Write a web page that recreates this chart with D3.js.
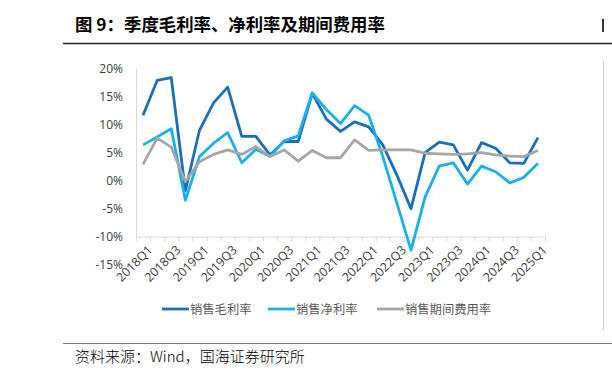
<!DOCTYPE html>
<html><head><meta charset="utf-8">
<script src="https://cdn.jsdelivr.net/npm/d3@7"></script>
<style>
html,body{margin:0;padding:0;background:#fff;}
svg{display:block;font-family:"Noto Sans CJK SC","Noto Sans",sans-serif;}
</style></head>
<body><svg id="c" width="612" height="379"></svg>
<script>
const categories = ["2018Q1","2018Q2","2018Q3","2018Q4","2019Q1","2019Q2","2019Q3","2019Q4","2020Q1","2020Q2","2020Q3","2020Q4","2021Q1","2021Q2","2021Q3","2021Q4","2022Q1","2022Q2","2022Q3","2022Q4","2023Q1","2023Q2","2023Q3","2023Q4","2024Q1","2024Q2","2024Q3","2024Q4","2025Q1"];
const grossMargin = [11.7,17.9,18.4,-1.8,9.0,13.9,16.7,7.9,7.9,4.6,7.0,7.0,15.6,11.0,8.8,10.5,9.6,6.4,1.0,-5.0,5.0,6.9,6.4,1.9,6.8,5.8,3.2,3.1,7.7];
const netMargin = [6.4,7.8,9.3,-3.5,4.3,6.7,8.6,3.2,5.6,4.3,7.1,8.0,15.7,12.7,10.2,13.4,11.7,4.3,-4.0,-12.4,-2.9,2.6,3.2,-0.6,2.6,1.6,-0.4,0.6,3.1];
const expenseRate = [2.9,7.6,6.0,-0.2,3.4,4.7,5.5,4.7,6.1,4.3,5.5,3.5,5.4,4.1,4.1,7.3,5.4,5.5,5.5,5.5,4.9,4.8,4.7,4.8,5.0,4.6,4.4,4.3,5.4];
const yTicks = [20,15,10,5,0,-5,-10,-15];
const seriesNames = ["销售毛利率","销售净利率","销售期间费用率"];
const seriesColors = ["#1a6fbd","#1ab0ec","#a6a6a6"];
const seriesData = [grossMargin, netMargin, expenseRate];

const svg = d3.select("#c");
const pLeft = 136, pRight = 545, pTop = 68.7, pBottom = 264.7;

const x = d3.scaleBand().domain(categories).range([pLeft, pRight]);
const y = d3.scaleLinear().domain([-15, 20]).range([pBottom, pTop]);

// title
svg.append("text").attr("x", 75).attr("y", 31).attr("font-size", 17.4).attr("font-weight", 700)
  .attr("fill", "#000").text("图 9：季度毛利率、净利率及期间费用率");
svg.append("line").attr("x1", 63).attr("x2", 612).attr("y1", 43.5).attr("y2", 43.5)
  .attr("stroke", "#222").attr("stroke-width", 1.5);
// right-edge page artifacts
svg.append("rect").attr("x", 602).attr("y", 19).attr("width", 2).attr("height", 13).attr("fill", "#333");
svg.append("line").attr("x1", 603.5).attr("x2", 603.5).attr("y1", 60).attr("y2", 330)
  .attr("stroke", "#d0d0d0").attr("stroke-width", 1);

// y axis
const yAxis = d3.axisLeft(y).tickValues(yTicks).tickSize(0).tickPadding(13).tickFormat(d => d + "%");
const gy = svg.append("g").attr("transform", `translate(${pLeft},0)`).call(yAxis);
gy.select(".domain").remove();
gy.selectAll("text").attr("font-size", 12).attr("fill", "#404040")
  .attr("font-family", "'Open Sans','Noto Sans',sans-serif");
svg.append("line").attr("x1", pLeft + 0.5).attr("x2", pLeft + 0.5).attr("y1", y(20)).attr("y2", y(-10))
  .attr("stroke", "#d9d9d9").attr("stroke-width", 1);

// x axis at -10%
const xAxisY = y(-10);
svg.append("line").attr("x1", pLeft).attr("x2", pRight).attr("y1", xAxisY + 0.5).attr("y2", xAxisY + 0.5)
  .attr("stroke", "#d9d9d9").attr("stroke-width", 1);
const boundaries = categories.map(c => x(c)).concat([pRight]);
svg.append("g").selectAll("line").data(boundaries).join("line")
  .attr("x1", d => d + 0.5).attr("x2", d => d + 0.5).attr("y1", xAxisY).attr("y2", xAxisY + 5)
  .attr("stroke", "#d9d9d9").attr("stroke-width", 1);
svg.append("g").selectAll("text").data(categories.filter((c, i) => i % 2 === 0)).join("text")
  .attr("transform", c => `translate(${x(c) + x.bandwidth() / 2 + 4},${xAxisY + 8}) rotate(-45)`)
  .attr("text-anchor", "end").attr("dy", "0.7em").attr("font-size", 12.3).attr("fill", "#404040")
  .attr("font-family", "'Open Sans','Noto Sans',sans-serif").text(c => c);

// lines
const line = d3.line().x((d, i) => x(categories[i]) + x.bandwidth() / 2).y(d => y(d));
seriesData.forEach((s, k) => {
  svg.append("path").datum(s).attr("d", line).attr("fill", "none")
    .attr("stroke", seriesColors[k]).attr("stroke-width", 2.8)
    .attr("stroke-linejoin", "round").attr("stroke-linecap", "butt");
});

// legend
const legendX = [162, 268, 377];
seriesNames.forEach((n, k) => {
  svg.append("line").attr("x1", legendX[k]).attr("x2", legendX[k] + 27).attr("y1", 309).attr("y2", 309)
    .attr("stroke", seriesColors[k]).attr("stroke-width", 2.8);
  svg.append("text").attr("x", legendX[k] + 28).attr("y", 313.5).attr("font-size", 12.3)
    .attr("fill", "#595959").text(n);
});

// footer
svg.append("line").attr("x1", 63).attr("x2", 612).attr("y1", 343.5).attr("y2", 343.5)
  .attr("stroke", "#777").attr("stroke-width", 1.2);
svg.append("text").attr("x", 75).attr("y", 362).attr("font-size", 15).attr("font-weight", 300).attr("fill", "#000")
  .text("资料来源：Wind，国海证券研究所");
</script></body></html>
